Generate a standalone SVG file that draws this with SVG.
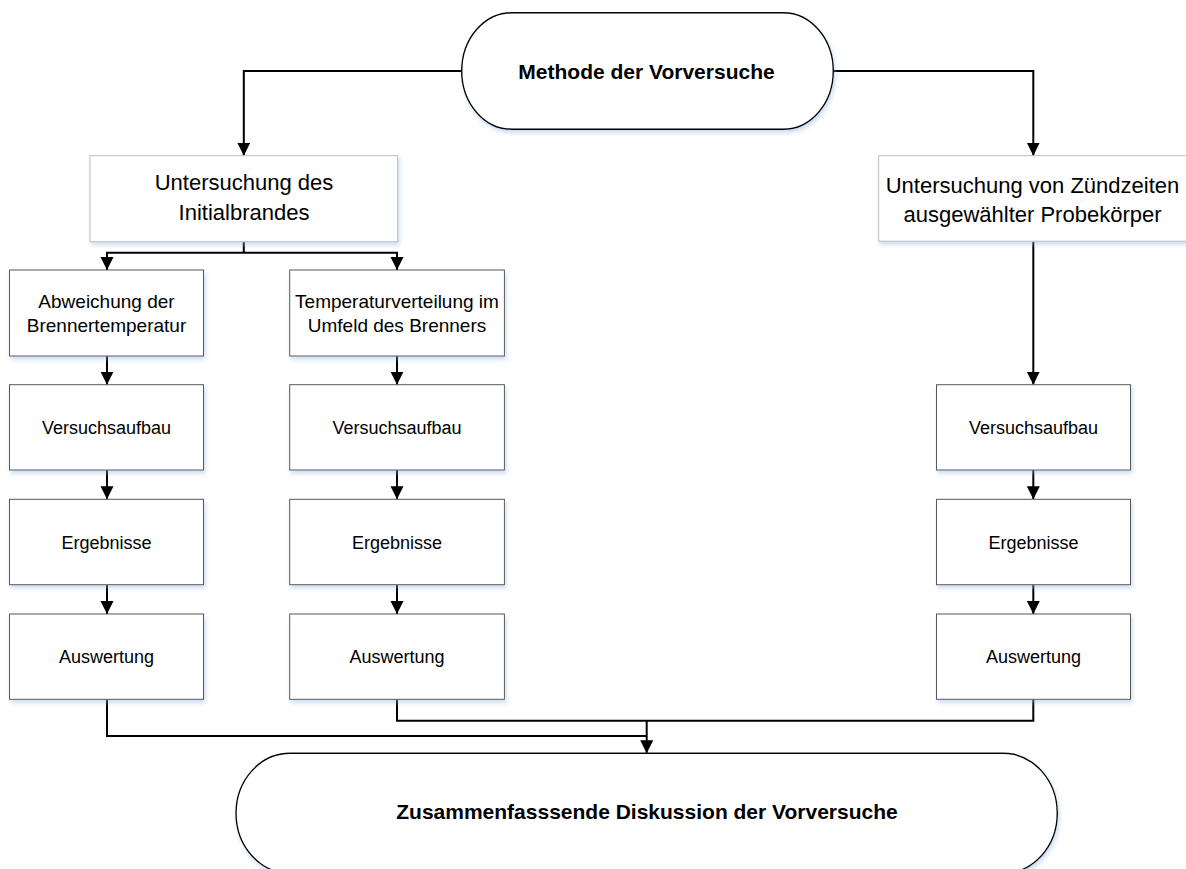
<svg xmlns="http://www.w3.org/2000/svg" width="1186" height="869" viewBox="0 0 1186 869">
<defs>
<style>
.box{fill:#fff;stroke:#595959;stroke-width:1}
.big{fill:#fff;stroke:#bfbfbf;stroke-width:1}
.term{fill:#fff;stroke:#000;stroke-width:1.4}
.t{font-family:"Liberation Sans",Arial,sans-serif;fill:#000;text-anchor:middle}
.s18{font-size:18px}
.s19{font-size:19px}
.s22{font-size:22px}
.b{font-size:21px;font-weight:bold}
.c{fill:none;stroke:#000;stroke-width:2}
.a{marker-end:url(#arr)}
</style>
<marker id="arr" markerUnits="userSpaceOnUse" markerWidth="14" markerHeight="14" refX="13" refY="6.5" orient="auto">
<path d="M0,0 L13,6.5 L0,13 z" fill="#000"/>
</marker>
<filter id="sh" x="-10%" y="-10%" width="120%" height="130%">
<feDropShadow dx="1.5" dy="3" stdDeviation="2" flood-color="#8eb4e3" flood-opacity="0.45"/>
</filter>
</defs>
<rect width="1186" height="869" fill="#fff"/>

<g id="connectors">
<path class="c a" d="M461.7,71 H243.8 V155.7"/>
<path class="c a" d="M833.3,71 H1033.3 V155.7"/>
<path class="c" d="M243.8,241.7 V252.7"/>
<path class="c a" d="M243.8,252.7 H107 V270"/>
<path class="c a" d="M243.8,252.7 H397 V270"/>
<path class="c a" d="M107,356 V384.7"/>
<path class="c a" d="M107,470 V499.3"/>
<path class="c a" d="M107,584.7 V614"/>
<path class="c a" d="M397,356 V384.7"/>
<path class="c a" d="M397,470 V499.3"/>
<path class="c a" d="M397,584.7 V614"/>
<path class="c a" d="M1033.3,241.7 V384.7"/>
<path class="c a" d="M1033.3,470 V499.3"/>
<path class="c a" d="M1033.3,584.7 V614"/>
<path class="c" d="M107,699.3 V736 H646.7"/>
<path class="c" d="M397,699.3 V720.7 H1033.3 V699.3"/>
<path class="c a" d="M646.7,720.7 V753.3"/>
</g>

<g id="start">
<path class="term" filter="url(#sh)" d="M511.7,12.7 H783.3 A50,58.3 0 0 1 783.3,129.3 H511.7 A50,58.3 0 0 1 511.7,12.7 Z"/>
<text class="t b" x="646.5" y="79">Methode der Vorversuche</text>
</g>

<g id="initialbrand">
<rect class="big" filter="url(#sh)" x="90" y="155.7" width="307.7" height="86"/>
<text class="t s22" x="244" y="190">Untersuchung des</text>
<text class="t s22" x="244" y="219.5">Initialbrandes</text>
</g>

<g id="zuendzeiten">
<rect class="big" filter="url(#sh)" x="878.7" y="155.7" width="309" height="85.5"/>
<text class="t s22" x="1032.5" y="193">Untersuchung von Zündzeiten</text>
<text class="t s22" x="1032.5" y="222">ausgewählter Probekörper</text>
</g>

<g id="abweichung">
<rect class="box" filter="url(#sh)" x="9.5" y="270" width="194" height="86"/>
<text class="t s19" x="106.5" y="308.3">Abweichung der</text>
<text class="t s19" x="106.5" y="331.7">Brennertemperatur</text>
</g>

<g id="temperaturverteilung">
<rect class="box" filter="url(#sh)" x="289.7" y="270" width="214.7" height="86"/>
<text class="t s19" x="397" y="308.3">Temperaturverteilung im</text>
<text class="t s19" x="397" y="331.7">Umfeld des Brenners</text>
</g>

<g id="versuchsaufbau1">
<rect class="box" filter="url(#sh)" x="9.5" y="384.7" width="194" height="85.3"/>
<text class="t s18" x="106.5" y="434">Versuchsaufbau</text>
</g>
<g id="ergebnisse1">
<rect class="box" filter="url(#sh)" x="9.5" y="499.3" width="194" height="85.4"/>
<text class="t s18" x="106.5" y="548.6">Ergebnisse</text>
</g>
<g id="auswertung1">
<rect class="box" filter="url(#sh)" x="9.5" y="614" width="194" height="85.3"/>
<text class="t s18" x="106.5" y="663">Auswertung</text>
</g>

<g id="versuchsaufbau2">
<rect class="box" filter="url(#sh)" x="289.7" y="384.7" width="214.7" height="85.3"/>
<text class="t s18" x="397" y="434">Versuchsaufbau</text>
</g>
<g id="ergebnisse2">
<rect class="box" filter="url(#sh)" x="289.7" y="499.3" width="214.7" height="85.4"/>
<text class="t s18" x="397" y="548.6">Ergebnisse</text>
</g>
<g id="auswertung2">
<rect class="box" filter="url(#sh)" x="289.7" y="614" width="214.7" height="85.3"/>
<text class="t s18" x="397" y="663">Auswertung</text>
</g>

<g id="versuchsaufbau3">
<rect class="box" filter="url(#sh)" x="936.5" y="384.7" width="194" height="85.3"/>
<text class="t s18" x="1033.5" y="434">Versuchsaufbau</text>
</g>
<g id="ergebnisse3">
<rect class="box" filter="url(#sh)" x="936.5" y="499.3" width="194" height="85.4"/>
<text class="t s18" x="1033.5" y="548.6">Ergebnisse</text>
</g>
<g id="auswertung3">
<rect class="box" filter="url(#sh)" x="936.5" y="614" width="194" height="85.3"/>
<text class="t s18" x="1033.5" y="663">Auswertung</text>
</g>

<g id="end">
<path class="term" filter="url(#sh)" d="M290,753.3 H1003.3 A54,60 0 0 1 1003.3,873.3 H290 A54,60 0 0 1 290,753.3 Z"/>
<text class="t b" x="647" y="819.3">Zusammenfasssende Diskussion der Vorversuche</text>
</g>
</svg>
